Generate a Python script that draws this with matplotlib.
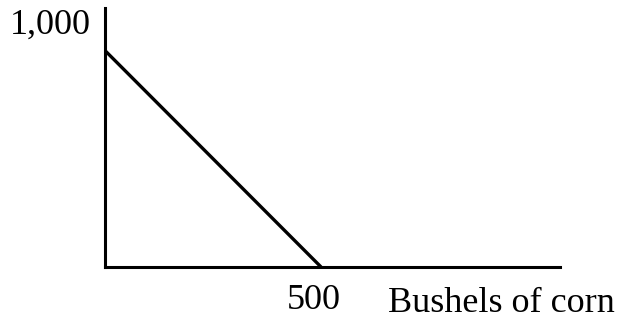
import matplotlib
matplotlib.use('Agg')
import matplotlib.pyplot as plt
import matplotlib.transforms as mtransforms

# data
corn = [0, 500]
other_good = [880, 0]
x_ticks = [500]
x_tick_labels = ['500']
y_ticks = [1000]
y_tick_labels = ['1,000']
x_label = 'Bushels of corn'

plt.rcParams['font.family'] = ['Liberation Serif', 'DejaVu Serif']

fig = plt.figure(figsize=(6.21, 3.28), dpi=100)
W, H = 621, 328
ax = fig.add_axes([105 / W, (H - 267) / H, (560 - 105) / W, (267 - 8) / H])

ax.plot(corn, other_good, color='black', lw=2.4, solid_capstyle='butt')

ax.set_xlim(0, 1053)
ax.set_ylim(0, 1053)

for side in ['top', 'right']:
    ax.spines[side].set_visible(False)
for side in ['left', 'bottom']:
    ax.spines[side].set_linewidth(2.2)
    ax.spines[side].set_color('black')

ax.set_xticks(x_ticks)
ax.set_xticklabels(x_tick_labels, fontsize=26)
ax.set_yticks(y_ticks)
ax.set_yticklabels(y_tick_labels, fontsize=26)
ax.tick_params(axis='x', length=0, pad=12)
ax.tick_params(axis='y', length=0, pad=10)

# nudge the 500 label slightly left, like the original
shift = mtransforms.ScaledTranslation(-7 / 100, 0, fig.dpi_scale_trans)
for lab in ax.get_xticklabels():
    lab.set_transform(lab.get_transform() + shift)

ax.text((388 - 105) / 455, -45 / 259, x_label, transform=ax.transAxes,
        fontsize=26, ha='left', va='baseline')

fig.savefig('out.png', dpi=100)
